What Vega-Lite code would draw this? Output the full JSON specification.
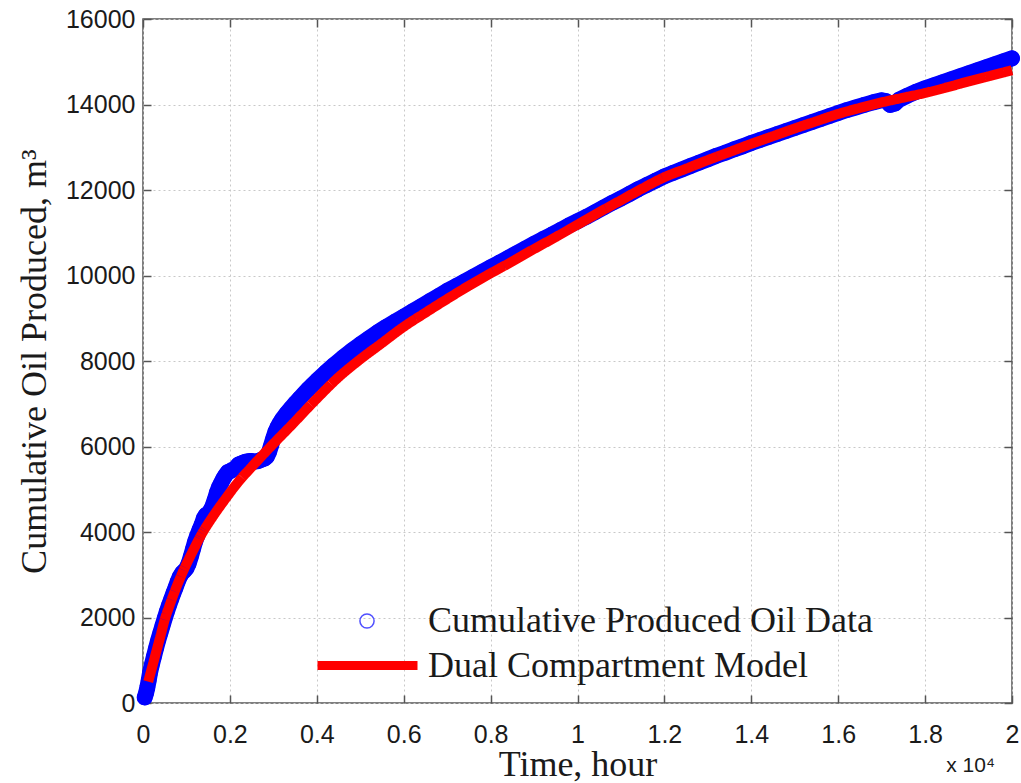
{
  "$schema": "https://vega.github.io/schema/vega-lite/v6.json",
  "width": 869,
  "height": 684,
  "autosize": "none",
  "padding": {"left": 143, "top": 19, "right": 9, "bottom": 80},
  "background": "white",
  "title": {"text": "x 10⁴", "orient": "bottom", "anchor": "end", "font": "Liberation Sans", "fontSize": 21, "fontWeight": "normal", "color": "#1a1a1a", "dx": -37, "offset": -27},
  "datasets": {
    "obs": [
      {"t": 40, "v": 130}, {"t": 70, "v": 230}, {"t": 100, "v": 360}, {"t": 130, "v": 520}, {"t": 160, "v": 700},
      {"t": 200, "v": 880}, {"t": 250, "v": 1080}, {"t": 300, "v": 1280}, {"t": 350, "v": 1470}, {"t": 400, "v": 1640},
      {"t": 450, "v": 1810}, {"t": 500, "v": 1980}, {"t": 550, "v": 2140}, {"t": 600, "v": 2290}, {"t": 650, "v": 2430},
      {"t": 700, "v": 2570}, {"t": 750, "v": 2700}, {"t": 800, "v": 2840}, {"t": 850, "v": 2960}, {"t": 900, "v": 3040},
      {"t": 950, "v": 3090}, {"t": 1000, "v": 3150}, {"t": 1050, "v": 3260}, {"t": 1100, "v": 3420}, {"t": 1150, "v": 3600},
      {"t": 1200, "v": 3780}, {"t": 1250, "v": 3920}, {"t": 1300, "v": 4050}, {"t": 1350, "v": 4170}, {"t": 1400, "v": 4320},
      {"t": 1450, "v": 4400}, {"t": 1500, "v": 4430}, {"t": 1550, "v": 4500}, {"t": 1600, "v": 4600}, {"t": 1650, "v": 4750},
      {"t": 1700, "v": 4920}, {"t": 1750, "v": 5050}, {"t": 1800, "v": 5150}, {"t": 1850, "v": 5250}, {"t": 1900, "v": 5330},
      {"t": 1950, "v": 5400}, {"t": 2000, "v": 5420}, {"t": 2050, "v": 5450}, {"t": 2100, "v": 5470}, {"t": 2150, "v": 5520},
      {"t": 2200, "v": 5580}, {"t": 2250, "v": 5600}, {"t": 2300, "v": 5620}, {"t": 2350, "v": 5640}, {"t": 2400, "v": 5650},
      {"t": 2450, "v": 5660}, {"t": 2500, "v": 5660}, {"t": 2550, "v": 5650}, {"t": 2600, "v": 5650}, {"t": 2650, "v": 5660},
      {"t": 2700, "v": 5680}, {"t": 2750, "v": 5700}, {"t": 2800, "v": 5720}, {"t": 2850, "v": 5760}, {"t": 2900, "v": 5870},
      {"t": 2950, "v": 6030}, {"t": 3000, "v": 6200}, {"t": 3050, "v": 6350}, {"t": 3100, "v": 6460}, {"t": 3150, "v": 6550},
      {"t": 3200, "v": 6630}, {"t": 3300, "v": 6770}, {"t": 3400, "v": 6890}, {"t": 3500, "v": 7010}, {"t": 3600, "v": 7120},
      {"t": 3700, "v": 7230}, {"t": 3800, "v": 7340}, {"t": 3900, "v": 7440}, {"t": 4000, "v": 7540}, {"t": 4200, "v": 7730},
      {"t": 4400, "v": 7910}, {"t": 4600, "v": 8080}, {"t": 4800, "v": 8240}, {"t": 5000, "v": 8390}, {"t": 5200, "v": 8530},
      {"t": 5400, "v": 8670}, {"t": 5600, "v": 8800}, {"t": 5800, "v": 8920}, {"t": 6000, "v": 9040}, {"t": 6200, "v": 9160},
      {"t": 6400, "v": 9280}, {"t": 6600, "v": 9400}, {"t": 6800, "v": 9520}, {"t": 7000, "v": 9640}, {"t": 7200, "v": 9750},
      {"t": 7400, "v": 9860}, {"t": 7600, "v": 9970}, {"t": 7800, "v": 10080}, {"t": 8000, "v": 10190}, {"t": 8200, "v": 10300},
      {"t": 8400, "v": 10410}, {"t": 8600, "v": 10520}, {"t": 8800, "v": 10630}, {"t": 9000, "v": 10740}, {"t": 9200, "v": 10850},
      {"t": 9400, "v": 10950}, {"t": 9600, "v": 11060}, {"t": 9800, "v": 11170}, {"t": 10000, "v": 11270}, {"t": 10200, "v": 11370},
      {"t": 10400, "v": 11480}, {"t": 10600, "v": 11590}, {"t": 10800, "v": 11700}, {"t": 11000, "v": 11800}, {"t": 11200, "v": 11910},
      {"t": 11400, "v": 12020}, {"t": 11600, "v": 12120}, {"t": 11800, "v": 12220}, {"t": 12000, "v": 12320}, {"t": 12200, "v": 12400},
      {"t": 12400, "v": 12480}, {"t": 12600, "v": 12560}, {"t": 12800, "v": 12640}, {"t": 13000, "v": 12720}, {"t": 13200, "v": 12800},
      {"t": 13400, "v": 12870}, {"t": 13600, "v": 12950}, {"t": 13800, "v": 13020}, {"t": 14000, "v": 13100}, {"t": 14200, "v": 13170},
      {"t": 14400, "v": 13240}, {"t": 14600, "v": 13310}, {"t": 14800, "v": 13380}, {"t": 15000, "v": 13450}, {"t": 15200, "v": 13520},
      {"t": 15400, "v": 13590}, {"t": 15600, "v": 13660}, {"t": 15800, "v": 13730}, {"t": 16000, "v": 13800}, {"t": 16200, "v": 13870},
      {"t": 16400, "v": 13930}, {"t": 16600, "v": 13990}, {"t": 16800, "v": 14050}, {"t": 17000, "v": 14100}, {"t": 17100, "v": 14080},
      {"t": 17200, "v": 13990}, {"t": 17300, "v": 14020}, {"t": 17400, "v": 14110}, {"t": 17600, "v": 14210}, {"t": 17800, "v": 14300},
      {"t": 18000, "v": 14380}, {"t": 18200, "v": 14450}, {"t": 18400, "v": 14520}, {"t": 18600, "v": 14590}, {"t": 18800, "v": 14660},
      {"t": 19000, "v": 14730}, {"t": 19200, "v": 14800}, {"t": 19400, "v": 14870}, {"t": 19600, "v": 14940}, {"t": 19800, "v": 15010},
      {"t": 20000, "v": 15080}
    ],
    "model": [
      {"t": 120, "v": 500}, {"t": 200, "v": 800}, {"t": 300, "v": 1180}, {"t": 400, "v": 1560}, {"t": 500, "v": 1950},
      {"t": 600, "v": 2250}, {"t": 700, "v": 2530}, {"t": 800, "v": 2790}, {"t": 900, "v": 3030}, {"t": 1000, "v": 3250},
      {"t": 1150, "v": 3560}, {"t": 1350, "v": 3950}, {"t": 1600, "v": 4350}, {"t": 1900, "v": 4780}, {"t": 2200, "v": 5180},
      {"t": 2500, "v": 5520}, {"t": 2940, "v": 6000}, {"t": 3400, "v": 6480}, {"t": 4000, "v": 7120}, {"t": 4500, "v": 7620},
      {"t": 4950, "v": 8000}, {"t": 5500, "v": 8420}, {"t": 6000, "v": 8800}, {"t": 6500, "v": 9130}, {"t": 7000, "v": 9450},
      {"t": 7500, "v": 9760}, {"t": 8000, "v": 10050}, {"t": 8500, "v": 10330}, {"t": 9000, "v": 10620}, {"t": 9500, "v": 10900},
      {"t": 10000, "v": 11190}, {"t": 10500, "v": 11480}, {"t": 11000, "v": 11760}, {"t": 11500, "v": 12040}, {"t": 12000, "v": 12300},
      {"t": 12500, "v": 12500}, {"t": 13000, "v": 12700}, {"t": 13500, "v": 12890}, {"t": 14000, "v": 13080}, {"t": 14500, "v": 13260},
      {"t": 15000, "v": 13440}, {"t": 15500, "v": 13610}, {"t": 16000, "v": 13780}, {"t": 16500, "v": 13920}, {"t": 17000, "v": 14050},
      {"t": 17500, "v": 14160}, {"t": 18000, "v": 14270}, {"t": 18500, "v": 14400}, {"t": 19000, "v": 14540}, {"t": 19500, "v": 14670},
      {"t": 20000, "v": 14800}
    ]
  },
  "layer": [
    {
      "data": {"name": "obs"},
      "mark": {"type": "line", "color": "#0000ff", "strokeWidth": 16, "strokeCap": "round", "strokeJoin": "round"},
      "encoding": {
        "x": {
          "field": "t", "type": "quantitative",
          "scale": {"domain": [0, 20000], "nice": false, "zero": false},
          "axis": {
            "values": [0, 2000, 4000, 6000, 8000, 10000, 12000, 14000, 16000, 18000, 20000],
            "labelExpr": "'' + datum.value / 10000",
            "title": "Time, hour",
            "grid": true,
            "labelPadding": 27,
            "titlePadding": 0
          }
        },
        "y": {
          "field": "v", "type": "quantitative",
          "scale": {"domain": [0, 16000], "nice": false, "zero": false},
          "axis": {
            "values": [0, 2000, 4000, 6000, 8000, 10000, 12000, 14000, 16000],
            "format": "d",
            "title": "Cumulative Oil Produced, m³",
            "grid": true,
            "labelPadding": 16,
            "titlePadding": 12
          }
        }
      }
    },
    {
      "data": {"name": "obs"},
      "mark": {"type": "point", "shape": "circle", "filled": false, "color": "#0000ff", "size": 200, "strokeWidth": 1.5, "opacity": 1},
      "encoding": {
        "x": {"field": "t", "type": "quantitative", "axis": null},
        "y": {"field": "v", "type": "quantitative", "axis": null},
        "shape": {
          "datum": "Cumulative Produced Oil Data", "type": "nominal",
          "scale": {"range": ["circle"]},
          "legend": {
            "orient": "none", "legendX": 206, "legendY": 584, "title": null, "padding": 0,
            "symbolStrokeColor": "#5050ff", "symbolFillColor": "transparent", "symbolSize": 200, "symbolStrokeWidth": 1.5,
            "labelFont": "Liberation Serif", "labelFontSize": 36, "labelColor": "#1a1a1a", "labelOffset": 43, "labelLimit": 600
          }
        }
      }
    },
    {
      "data": {"name": "model"},
      "mark": {"type": "line", "color": "#ff0000", "strokeWidth": 10, "interpolate": "monotone"},
      "encoding": {
        "x": {
          "field": "t", "type": "quantitative",
          "axis": {"orient": "top", "labels": false, "grid": false, "title": null,
                   "values": [0, 2000, 4000, 6000, 8000, 10000, 12000, 14000, 16000, 18000, 20000]}
        },
        "y": {
          "field": "v", "type": "quantitative",
          "axis": {"orient": "right", "labels": false, "grid": false, "title": null,
                   "values": [0, 2000, 4000, 6000, 8000, 10000, 12000, 14000, 16000]}
        },
        "strokeDash": {
          "datum": "Dual Compartment Model", "type": "nominal",
          "scale": {"range": [[1, 0]]},
          "legend": {
            "orient": "none", "legendX": 170, "legendY": 592, "title": null, "padding": 0,
            "symbolType": "stroke", "symbolStrokeColor": "#ff0000", "symbolStrokeWidth": 9, "symbolSize": 10000,
            "labelFont": "Liberation Serif", "labelFontSize": 36, "labelColor": "#1a1a1a", "labelOffset": 6, "labelLimit": 600
          }
        }
      }
    }
  ],
  "resolve": {"axis": {"x": "independent", "y": "independent"}},
  "config": {
    "view": {"stroke": "#555555", "strokeWidth": 1.5},
    "axis": {
      "domain": false,
      "tickColor": "#555555", "tickWidth": 1.5, "tickSize": -8,
      "labelFont": "Liberation Sans", "labelFontSize": 25, "labelColor": "#1a1a1a",
      "labelFlush": false, "labelOverlap": false,
      "titleFont": "Liberation Serif", "titleFontSize": 36, "titleFontWeight": "normal", "titleColor": "#1a1a1a",
      "gridColor": "#c8c8c8", "gridDash": [2, 3], "gridWidth": 1
    }
  }
}
